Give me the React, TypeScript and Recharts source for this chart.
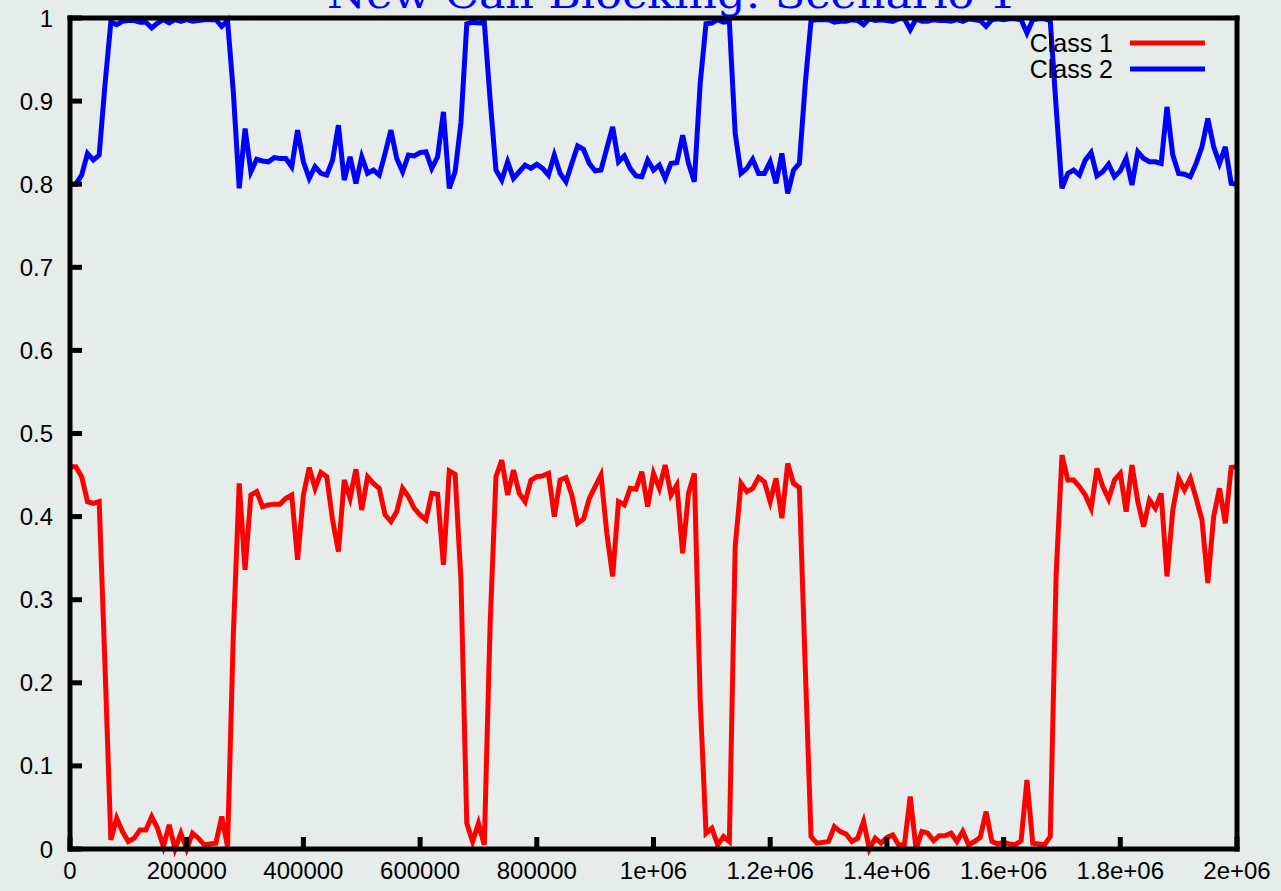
import { LineChart, Line, XAxis, YAxis, Legend } from 'recharts';

// sampling step of the simulation (x axis)
const STEP = 10000;

const class1 = [
  0.46, 0.46, 0.448, 0.418, 0.416, 0.418, 0.22, 0.011, 0.037, 0.021,
  0.009, 0.013, 0.023, 0.023, 0.039, 0.025, 0.003, 0.029, 0.0, 0.019,
  0.0, 0.019, 0.013, 0.005, 0.006, 0.007, 0.039, 0.003, 0.26, 0.44,
  0.336, 0.426, 0.43, 0.412, 0.414, 0.415, 0.415, 0.422, 0.426, 0.348,
  0.426, 0.459, 0.434, 0.453, 0.448, 0.396, 0.358, 0.444, 0.422, 0.457,
  0.408, 0.448, 0.44, 0.434, 0.402, 0.394, 0.406, 0.434, 0.424, 0.41,
  0.402, 0.396, 0.428, 0.427, 0.342, 0.455, 0.451, 0.324, 0.031, 0.009,
  0.031, 0.005, 0.27, 0.448, 0.468, 0.426, 0.456, 0.428, 0.418, 0.444,
  0.448, 0.449, 0.452, 0.4, 0.444, 0.447, 0.426, 0.392, 0.397, 0.422,
  0.436, 0.45, 0.38, 0.328, 0.418, 0.414, 0.434, 0.433, 0.454, 0.412,
  0.452, 0.434, 0.462, 0.426, 0.438, 0.356, 0.428, 0.452, 0.18, 0.019,
  0.025, 0.005, 0.015, 0.009, 0.364, 0.44, 0.43, 0.434, 0.447, 0.442,
  0.418, 0.446, 0.398, 0.464, 0.44, 0.435, 0.22, 0.015, 0.007, 0.008,
  0.009, 0.027, 0.021, 0.018, 0.009, 0.013, 0.033, 0.0, 0.013, 0.007,
  0.014, 0.017, 0.005, 0.005, 0.063, 0.0, 0.021, 0.019, 0.01, 0.016,
  0.016, 0.019, 0.009, 0.021, 0.005, 0.009, 0.014, 0.045, 0.009, 0.006,
  0.008, 0.006, 0.005, 0.01, 0.083, 0.007, 0.006, 0.005, 0.015, 0.33,
  0.474, 0.444, 0.444, 0.436, 0.426, 0.41, 0.458, 0.436, 0.421, 0.444,
  0.452, 0.406, 0.462, 0.418, 0.388, 0.42, 0.41, 0.428, 0.328, 0.408,
  0.446, 0.432, 0.446, 0.422, 0.396, 0.32, 0.4, 0.434, 0.392, 0.459,
  0.46,
];

const class2 = [
  0.8, 0.8, 0.811, 0.837, 0.829, 0.835, 0.92, 0.995, 0.992, 0.996,
  0.997, 0.997, 0.995, 0.995, 0.988, 0.994, 0.998, 0.994, 0.998, 0.996,
  0.998, 0.996, 0.997, 0.998, 0.998, 0.998, 0.99, 0.997, 0.91, 0.795,
  0.867, 0.815, 0.83, 0.828, 0.827, 0.832, 0.831, 0.831, 0.821, 0.865,
  0.827, 0.807, 0.821, 0.813, 0.811, 0.829, 0.871, 0.805, 0.833, 0.801,
  0.833, 0.813, 0.817, 0.811, 0.837, 0.865, 0.831, 0.815, 0.835, 0.834,
  0.838, 0.839, 0.819, 0.833, 0.887, 0.795, 0.815, 0.874, 0.993, 0.995,
  0.994, 0.995, 0.902, 0.817, 0.805, 0.827, 0.807, 0.815, 0.823, 0.819,
  0.824, 0.819, 0.811, 0.835, 0.813, 0.803, 0.825, 0.846, 0.842, 0.825,
  0.816, 0.817, 0.843, 0.869, 0.827, 0.834, 0.819, 0.81, 0.809, 0.829,
  0.817, 0.823, 0.807, 0.825, 0.826, 0.859, 0.825, 0.803, 0.921, 0.993,
  0.994, 0.998, 0.995, 0.996, 0.861, 0.813, 0.819, 0.83, 0.813, 0.813,
  0.827, 0.801, 0.837, 0.789, 0.817, 0.825, 0.92, 0.997, 0.998, 0.998,
  0.998, 0.995, 0.996, 0.996, 0.998, 0.997, 0.992, 0.999, 0.997, 0.998,
  0.997, 0.996, 0.999, 0.999, 0.986, 0.999, 0.996, 0.996, 0.998, 0.997,
  0.997, 0.996, 0.998, 0.996, 0.999, 0.998, 0.997, 0.99, 0.998, 0.999,
  0.998, 0.999, 0.999, 0.998, 0.982, 0.998, 0.999, 0.999, 0.997, 0.893,
  0.795, 0.813, 0.817, 0.811, 0.829, 0.838, 0.81, 0.815, 0.824, 0.809,
  0.816, 0.831, 0.799, 0.839, 0.831, 0.827, 0.827, 0.825, 0.893, 0.835,
  0.813, 0.812, 0.809, 0.825, 0.845, 0.879, 0.845, 0.825, 0.845, 0.801,
  0.8,
];

const xTicks = [0, 200000, 400000, 600000, 800000, 1000000, 1200000, 1400000, 1600000, 1800000, 2000000];
const xTickLabels = ['0', '200000', '400000', '600000', '800000', '1e+06', '1.2e+06', '1.4e+06', '1.6e+06', '1.8e+06', '2e+06'];
const yTicks = [0, 0.1, 0.2, 0.3, 0.4, 0.5, 0.6, 0.7, 0.8, 0.9, 1];
const yTickLabels = ['0', '0.1', '0.2', '0.3', '0.4', '0.5', '0.6', '0.7', '0.8', '0.9', '1'];

const seriesNames = ['Class 1', 'Class 2'];
const seriesColors = ['#ff0000', '#0000ff'];

const data = class1.map((v, i) => ({ t: i * STEP, c1: v, c2: class2[i] }));

const FONT = '"Liberation Sans", Arial, sans-serif';
const frame = { stroke: '#000', strokeWidth: 5, strokeLinecap: 'square' as const };
const tickLine = { stroke: '#000', strokeWidth: 5 };

const renderLegend = () => (
  <div style={{ display: 'flex', flexDirection: 'column', alignItems: 'flex-end' }}>
    {seriesNames.map((name, i) => (
      <div key={name} style={{ display: 'flex', alignItems: 'center', height: 26 }}>
        <span style={{ fontFamily: FONT, fontSize: 25, color: '#000', marginRight: 17 }}>{name}</span>
        <svg width={75} height={8}>
          <line x1={0} x2={75} y1={4} y2={4} stroke={seriesColors[i]} strokeWidth={5} />
        </svg>
      </div>
    ))}
  </div>
);

export default function App() {
  return (
    <div style={{ position: 'absolute', left: 0, top: 0, width: 1281, height: 891, background: '#e5ece9', overflow: 'hidden' }}>
      <LineChart width={1281} height={891} data={data} margin={{ top: 17, right: 43, left: 0, bottom: 0 }}>
        <XAxis
          dataKey="t"
          type="number"
          domain={[0, 2000000]}
          ticks={xTicks}
          interval={0}
          tickFormatter={(_, i) => xTickLabels[i]}
          height={42}
          tickSize={-12}
          tickMargin={25}
          axisLine={frame}
          tickLine={tickLine}
          tick={{ fill: '#000', fontSize: 24, fontFamily: FONT }}
        />
        <XAxis
          xAxisId="top"
          dataKey="t"
          orientation="top"
          type="number"
          domain={[0, 2000000]}
          ticks={xTicks}
          interval={0}
          height={1}
          tickSize={-12}
          axisLine={frame}
          tickLine={tickLine}
          tick={false}
        />
        <YAxis
          type="number"
          domain={[0, 1]}
          ticks={yTicks}
          interval={0}
          tickFormatter={(_, i) => yTickLabels[i]}
          width={70}
          tickSize={-12}
          tickMargin={29}
          axisLine={frame}
          tickLine={tickLine}
          tick={{ fill: '#000', fontSize: 24, fontFamily: FONT }}
        />
        <YAxis
          yAxisId="right"
          orientation="right"
          type="number"
          domain={[0, 1]}
          ticks={yTicks}
          interval={0}
          width={1}
          tickSize={-12}
          axisLine={frame}
          tickLine={tickLine}
          tick={false}
        />
        <Legend
          layout="vertical"
          align="center"
          verticalAlign="middle"
          content={renderLegend}
          wrapperStyle={{ left: 955, top: 30, width: 250, height: 52 }}
        />
        {/* invisible copy bound to the mirror axes so they get drawn */}
        <Line xAxisId="top" yAxisId="right" type="linear" dataKey="c1" stroke="none" strokeWidth={0} dot={false} activeDot={false} legendType="none" isAnimationActive={false} />
        <Line type="linear" dataKey="c1" name={seriesNames[0]} stroke={seriesColors[0]} strokeWidth={5} dot={false} activeDot={false} isAnimationActive={false} />
        <Line type="linear" dataKey="c2" name={seriesNames[1]} stroke={seriesColors[1]} strokeWidth={5} dot={false} activeDot={false} isAnimationActive={false} />
      </LineChart>
      <svg width={1281} height={40} style={{ position: 'absolute', left: 0, top: 0 }}>
        <text x={672} y={8} textAnchor="middle" fontFamily='"DejaVu Serif", serif' fontSize={40} fill="#0000ff" textLength={690} lengthAdjust="spacingAndGlyphs">
          New Call Blocking: Scenario 1
        </text>
      </svg>
    </div>
  );
}
